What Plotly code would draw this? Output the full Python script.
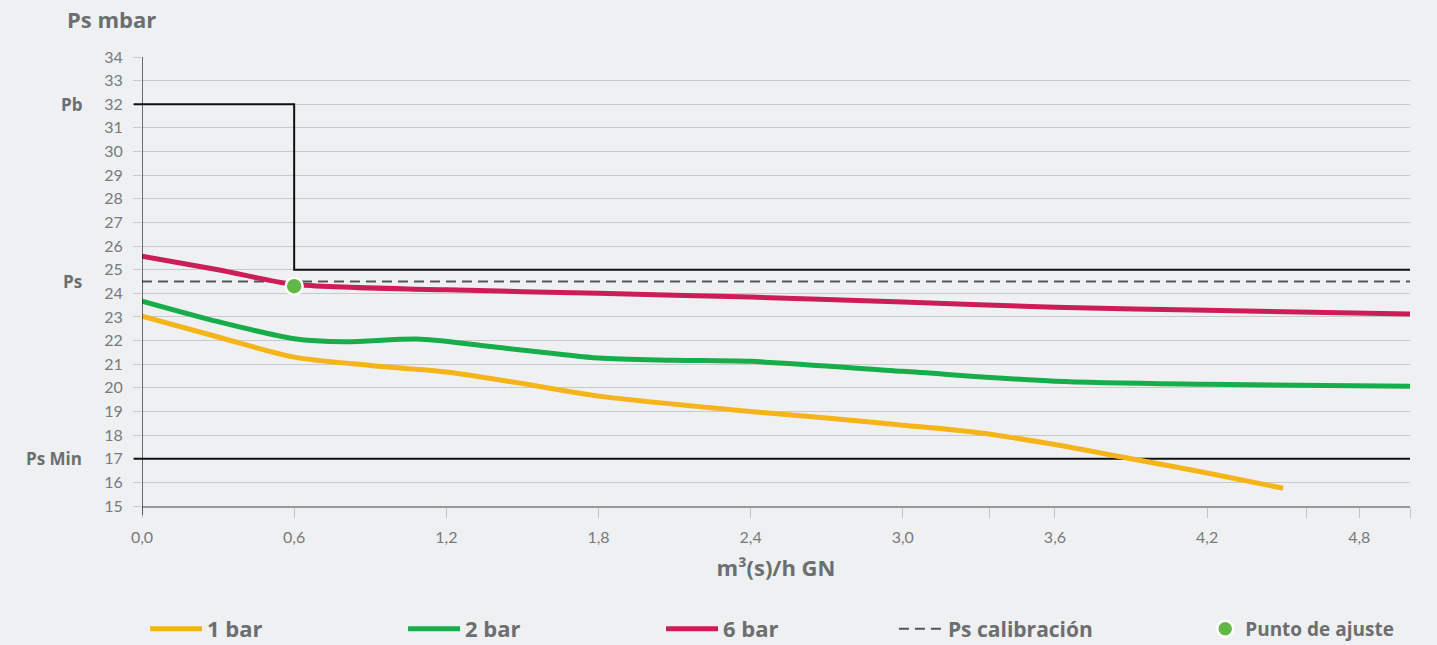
import plotly.graph_objects as go

# ---- data ----
x_1bar = [0, 0.3, 0.6, 0.9, 1.2, 1.5, 1.8, 2.4, 2.7, 3.0, 3.3, 3.6, 3.9, 4.2, 4.5]
y_1bar = [23.03, 22.15, 21.3, 20.95, 20.67, 20.18, 19.65, 19.0, 18.72, 18.42, 18.1, 17.6, 17.0, 16.4, 15.75]

x_2bar = [0, 0.3, 0.6, 0.8, 1.1, 1.4, 1.8, 2.1, 2.4, 3.0, 3.6, 4.2, 5.0]
y_2bar = [23.67, 22.8, 22.08, 21.95, 22.06, 21.72, 21.26, 21.17, 21.12, 20.7, 20.28, 20.15, 20.07]

x_6bar = [0, 0.3, 0.6, 1.2, 1.8, 2.4, 3.0, 3.6, 4.2, 5.0]
y_6bar = [25.57, 25.0, 24.38, 24.15, 24.0, 23.84, 23.63, 23.41, 23.28, 23.12]

x_end = 5.0
pb_value = 32
pb_switch_x = 0.6
ps_value_after = 25
ps_calibracion = 24.5
ps_min = 17
punto_x = [0.6]
punto_y = [24.3]

x_tickvals = [0, 0.6, 1.2, 1.8, 2.4, 3.0, 3.34, 3.6, 4.2, 4.59, 4.8, 5.0]
x_ticktext = ["0,0", "0,6", "1,2", "1,8", "2,4", "3,0", "", "3,6", "4,2", "", "4,8", ""]
y_ticks = list(range(15, 35))

side_labels = [("Pb", 32), ("Ps", 24.5), ("Ps Min", 17)]

# ---- style ----
C_Y = "#f5b41a"
C_G = "#17ad4a"
C_R = "#cc1d58"
GREY_TXT = "#6d6e70"
BG = "#eff0f2"
BOLD = "Open Sans"
TICKF = "Lato"

fig = go.Figure()

# black reference lines
fig.add_trace(go.Scatter(x=[0, pb_switch_x, pb_switch_x, x_end],
                         y=[pb_value, pb_value, ps_value_after, ps_value_after],
                         mode="lines", line=dict(color="#111", width=2),
                         showlegend=False, hoverinfo="skip"))
fig.add_trace(go.Scatter(x=[0, x_end], y=[ps_min, ps_min], mode="lines",
                         line=dict(color="#111", width=2),
                         showlegend=False, hoverinfo="skip"))

fig.add_trace(go.Scatter(x=[0, x_end], y=[ps_calibracion, ps_calibracion], mode="lines",
                         name="<b>Ps calibración</b>", legend="legend2",
                         line=dict(color="#555", width=2, dash="10px,6px")))
fig.add_trace(go.Scatter(x=x_1bar, y=y_1bar, mode="lines", name="<b>1 bar</b>",
                         line=dict(color=C_Y, width=5, shape="spline", smoothing=0.8)))
fig.add_trace(go.Scatter(x=x_2bar, y=y_2bar, mode="lines", name="<b>2 bar</b>",
                         line=dict(color=C_G, width=5, shape="spline", smoothing=0.8)))
fig.add_trace(go.Scatter(x=x_6bar, y=y_6bar, mode="lines", name="<b>6 bar</b>",
                         line=dict(color=C_R, width=5, shape="spline", smoothing=0.8)))
fig.add_trace(go.Scatter(x=punto_x, y=punto_y, mode="markers",
                         name="<b>Punto de ajuste</b>", legend="legend3",
                         marker=dict(color="#62b846", size=17, line=dict(color="white", width=2.5))))

# extensions of black lines to the left, and y-axis line
for yv in (pb_value, ps_min):
    fig.add_shape(type="line", xref="paper", yref="y", x0=-0.0066, x1=0, y0=yv, y1=yv,
                  line=dict(color="#111", width=2))
fig.add_shape(type="line", xref="x", yref="paper", x0=0, x1=0, y0=-0.02, y1=1,
              line=dict(color="#111", width=1.2))

for txt, yv in side_labels:
    fig.add_annotation(text="<b>" + txt + "</b>", xref="paper", yref="y", x=-0.0457, y=yv,
                       xanchor="right", yanchor="middle", showarrow=False,
                       font=dict(family=BOLD, size=17, color=GREY_TXT))

leg_y = (645 - 629) / 645
leg_common = dict(orientation="h", xanchor="left", yref="container", y=leg_y, yanchor="middle",
                  bgcolor="rgba(0,0,0,0)")

fig.update_layout(
    width=1437, height=645,
    paper_bgcolor=BG, plot_bgcolor=BG,
    margin=dict(l=142, r=27, t=57, b=139, autoexpand=False),
    font=dict(family=TICKF, color="#777"),
    title=dict(text="<b>Ps mbar</b>", x=67 / 1437, xanchor="left", y=1 - 20 / 645, yanchor="middle",
               font=dict(family=BOLD, size=22, color=GREY_TXT)),
    showlegend=True,
    legend=dict(**leg_common, x=0.0024, entrywidth=191, entrywidthmode="pixels", itemwidth=52,
                traceorder="normal",
                font=dict(family=BOLD, size=22, color=GREY_TXT)),
    legend2=dict(**leg_common, x=0.593, itemwidth=44,
                 font=dict(family=BOLD, size=21, color=GREY_TXT)),
    legend3=dict(**leg_common, x=0.8385, itemwidth=30,
                 font=dict(family=BOLD, size=19, color=GREY_TXT)),
)

fig.update_xaxes(range=[0, x_end], tickmode="array", tickvals=x_tickvals, ticktext=x_ticktext,
                 showgrid=False, zeroline=False, showline=True, linecolor="#9a9a9a", linewidth=1.5,
                 ticks="outside", ticklen=10, tickcolor="#c4c4c4", tickwidth=1,
                 ticklabelstandoff=6,
                 tickfont=dict(family=TICKF, size=16, color="#7a7a7a"),
                 title=dict(text="<b>m³(s)/h GN</b>", standoff=16,
                            font=dict(family=BOLD, size=22, color=GREY_TXT)))
fig.update_yaxes(range=[15, 34], tickmode="array", tickvals=y_ticks,
                 showgrid=True, gridcolor="#c9c9c9", gridwidth=1, zeroline=False,
                 showline=False, ticks="outside", ticklen=8, tickcolor="#c9c9c9",
                 ticklabelstandoff=7,
                 tickfont=dict(family=TICKF, size=16, color="#7a7a7a"))

fig.write_html("out.html", config={"displayModeBar": False},
               post_script="document.body.style.margin='0';document.body.style.overflow='hidden';")
